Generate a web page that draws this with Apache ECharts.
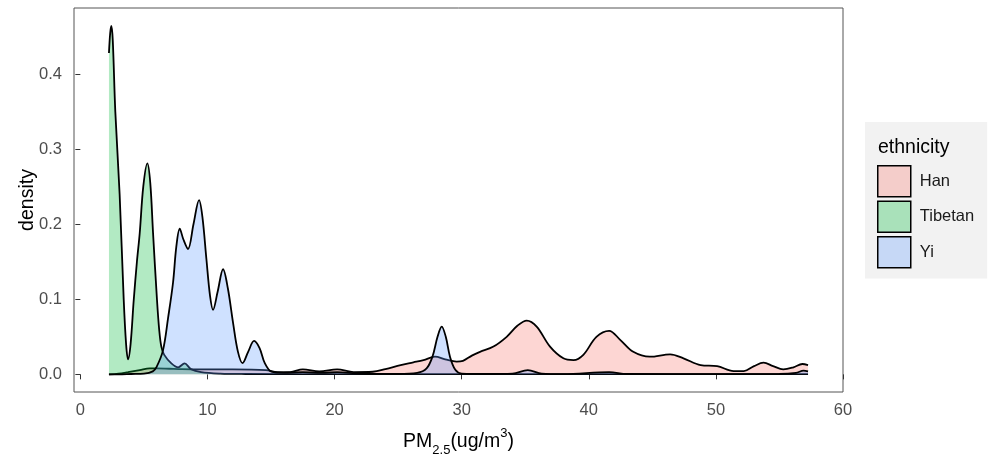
<!DOCTYPE html>
<html>
<head>
<meta charset="utf-8">
<script src="https://cdn.jsdelivr.net/npm/echarts@6/dist/echarts.min.js"></script>
<style>html,body{margin:0;padding:0;background:#fff}#c{width:990px;height:455px}</style>
</head>
<body>
<div id="c"></div>
<script>
// ---- data ----
const seriesNames = ['Han', 'Tibetan', 'Yi'];
const xTicks = [0, 10, 20, 30, 40, 50, 60];
const yTicks = [0, 0.1, 0.2, 0.3, 0.4];

const hanDensity = [
  [2.25,0],[3,0.001],[3.75,0.003],[4.67,0.0057],[5.46,0.008],[6,0.008],[7,0.0075],[8,0.007],
  [9.4,0.0067],[12,0.0067],[14.6,0.0057],[15.5,0.003],[16.5,0.003],[17.5,0.0067],[18.8,0.004],
  [20.2,0.0067],[21.5,0.003],[23,0.0035],[24,0.007],[25.2,0.0124],[26.2,0.016],[27.0,0.019],
  [27.9,0.0235],[28.7,0.02],[29.6,0.017],[30.1,0.018],[30.8,0.025],[31.44,0.030],[32.5,0.037],
  [33.54,0.050],[34.4,0.065],[35.12,0.0717],[35.9,0.0637],[36.95,0.037],[38.0,0.0214],
  [38.8,0.019],[39.57,0.026],[40.6,0.050],[41.6,0.058],[42.47,0.046],[43.5,0.030],[44.8,0.0235],
  [46.4,0.0267],[47.45,0.0214],[48.8,0.0124],[50.1,0.011],[51.4,0.0044],[52.2,0.0044],[53.0,0.011],
  [53.75,0.0155],[54.5,0.011],[55.3,0.0067],[56.1,0.0094],[56.8,0.0138],[57.25,0.0124]
];
const tibetanDensity = [
  [2.25,0.428],[2.35,0.455],[2.44,0.464],[2.55,0.445],[2.75,0.35],[3.09,0.24],[3.41,0.10],
  [3.6,0.04],[3.75,0.02],[3.95,0.04],[4.2,0.099],[4.45,0.15],[4.67,0.188],[4.95,0.25],[5.27,0.281],
  [5.5,0.255],[5.72,0.188],[6.03,0.099],[6.2,0.06],[6.37,0.037],[6.6,0.026],[7.16,0.0147],
  [7.7,0.0094],[8.2,0.0147],[8.7,0.007],[9.5,0.003],[11,0.001],[13,0.0005],[20,0.0003],
  [30,0.0003],[40,0.0003],[50,0.0002],[57.25,0.0002]
];
const yiDensity = [
  [2.25,0],[3,0],[4,0.0005],[5,0.001],[5.7,0.004],[6.0,0.01],[6.5,0.032],[6.9,0.075],[7.29,0.122],
  [7.55,0.17],[7.82,0.194],[8.1,0.18],[8.47,0.167],[8.9,0.2],[9.34,0.232],[9.6,0.21],[9.92,0.153],
  [10.2,0.105],[10.44,0.086],[10.8,0.11],[11.23,0.140],[11.6,0.115],[12.02,0.068],[12.4,0.03],
  [12.76,0.015],[13.2,0.03],[13.67,0.0445],[14.1,0.035],[14.51,0.015],[15.04,0.0035],[16,0.002],
  [17.5,0.003],[19,0.002],[20.2,0.003],[22,0.001],[25,0.0005],[26.5,0.002],[27.24,0.008],
  [27.7,0.0235],[28.1,0.05],[28.43,0.0637],[28.75,0.05],[29.08,0.0235],[29.5,0.006],[30,0.001],
  [32,0.0005],[34,0.001],[35.2,0.0057],[36.3,0.001],[38,0.0003],[41.6,0.003],[43,0.0005],
  [50,0.0003],[55,0.0005],[56.3,0.002],[56.9,0.005],[57.25,0.004]
];
// ---- styling ----
const fills = ['rgba(248,118,109,0.3)', 'rgba(0,186,56,0.3)', 'rgba(97,156,255,0.3)'];
const FONT = 'Liberation Sans, Arial, sans-serif';
const dataSets = [hanDensity, tibetanDensity, yiDensity];

const chart = echarts.init(document.getElementById('c'), null, {renderer: 'canvas'});
chart.setOption({
  animation: false,
  backgroundColor: '#fff',
  grid: {left: 74, right: 147, top: 8, bottom: 63, show: true, borderColor: '#555', borderWidth: 1,
    backgroundColor: 'transparent', containLabel: false, outerBoundsMode: 'none'},
  title: {text: 'ethnicity', left: 873, top: 133, z: 10, textStyle: {fontFamily: FONT, fontSize: 19.5, fontWeight: 'normal', color: '#000'}},
  legend: {
    orient: 'vertical', left: 865, top: 122,
    padding: [43, 13, 10, 12],
    backgroundColor: '#f2f2f2',
    icon: 'rect', itemWidth: 33, itemHeight: 31, itemGap: 3,
    textStyle: {fontFamily: FONT, fontSize: 16.5, color: '#1a1a1a', padding: [0, 0, 0, 4]},
    data: seriesNames.map((n, i) => ({name: n, itemStyle: {color: fills[i], borderColor: '#000', borderWidth: 1.5}})),
    selectedMode: false
  },
  xAxis: {
    type: 'value', min: -0.5, max: 60,
    name: '{a|PM}{sub|2.5}{a|(ug/m}{sup|3}{a|)}',
    nameLocation: 'middle', nameGap: 35,
    nameTextStyle: {rich: {
      a: {fontFamily: FONT, fontSize: 19.5, color: '#000', lineHeight: 30, verticalAlign: 'middle'},
      sub: {fontFamily: FONT, fontSize: 13, color: '#000', lineHeight: 30, verticalAlign: 'bottom'},
      sup: {fontFamily: FONT, fontSize: 13, color: '#000', lineHeight: 30, verticalAlign: 'top'}
    }},
    axisLine: {show: false},
    axisTick: {show: true, length: 5, lineStyle: {color: '#333'}, customValues: xTicks},
    axisLabel: {customValues: xTicks, margin: 10, fontFamily: FONT, fontSize: 16.5, color: '#4d4d4d'},
    splitLine: {show: false}
  },
  yAxis: {
    type: 'value', min: -0.0235, max: 0.488,
    name: 'density', nameLocation: 'middle', nameGap: 36, nameRotate: 90, nameMoveOverlap: false,
    nameTextStyle: {fontFamily: FONT, fontSize: 19.5, color: '#000'},
    axisLine: {show: false},
    axisTick: {show: true, length: 5, lineStyle: {color: '#333'}, customValues: yTicks},
    axisLabel: {customValues: yTicks, margin: 12, fontFamily: FONT, fontSize: 16.5, color: '#4d4d4d',
      formatter: v => v.toFixed(1)},
    splitLine: {show: false}
  },
  series: seriesNames.map((n, i) => ({
    name: n, type: 'line', data: dataSets[i],
    smooth: 0.35, showSymbol: false, symbol: 'none',
    itemStyle: {color: fills[i]},
    lineStyle: {color: '#000', width: 1.8},
    areaStyle: {color: fills[i], opacity: 1},
    z: 2 + i
  }))
});
</script>
</body>
</html>
